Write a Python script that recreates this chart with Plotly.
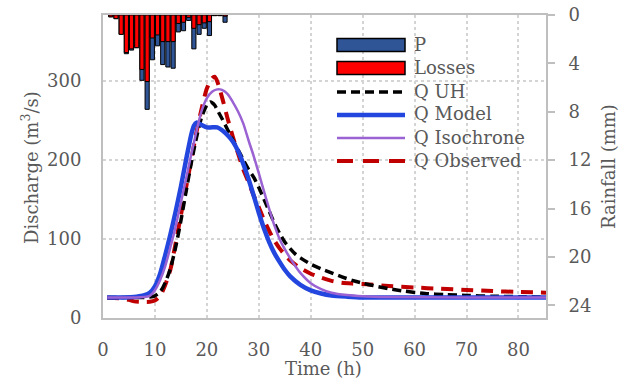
import plotly.graph_objects as go

# ---------------- data ----------------
rain_t = [1.5, 2.5, 3.5, 4.5, 5.5, 6.5, 7.5, 8.5, 9.5, 10.5, 11.5, 12.5,
          13.5, 14.5, 15.5, 16.5, 17.5, 18.5, 19.5, 20.5, 21.5, 22.5, 23.5]
rain_p = [0.15, 0.3, 1.6, 3.2, 2.9, 2.7, 5.4, 7.8, 3.7, 2.55, 4.1, 4.3,
          4.4, 1.4, 1.3, 0.45, 2.8, 1.6, 1.1, 1.7, 0.05, 0.05, 0.6]
rain_loss = [0.15, 0.3, 1.6, 3.1, 2.8, 2.7, 4.5, 5.5, 1.9, 1.65, 2.2, 2.2,
             2.2, 0.7, 0.6, 0.2, 1.1, 0.8, 0.65, 0.55, 0.05, 0.05, 0.1]

t_model = [0.8, 4, 6, 7, 8, 9, 10, 11, 12, 13, 14, 15, 16, 17, 17.5, 18, 19, 20, 21, 22,
           23, 24, 25, 26, 27, 28, 29, 30, 31, 32, 33, 34, 35, 36, 38, 40, 42, 44,
           47, 50, 60, 70, 85.3]
q_model = [26, 26, 26.5, 27.5, 29, 32, 40, 56, 80, 106, 135, 166, 200, 232, 243, 247, 244,
           241, 241, 241, 237, 231, 223, 211, 195, 176, 155, 133, 113, 96, 82, 71, 61,
           53, 42, 35, 31, 28.5, 27, 26, 26, 26, 26]

t_iso = [0.8, 6, 8, 9, 10, 11, 12, 13, 14, 15, 16, 17, 18, 19, 20, 21, 22, 22.5, 23,
         24, 25, 26, 27, 28, 29, 30, 31, 32, 33, 34, 35, 36, 37, 38, 40, 42, 44, 47,
         50, 55, 70, 85.3]
q_iso = [26, 26, 26.5, 28, 35, 48, 66, 90, 116, 146, 176, 207, 236, 262, 278, 286, 289,
         289, 288, 283, 273, 261, 246, 225, 205, 183, 160, 138, 117, 100, 87, 76, 66,
         57, 44, 36.5, 32, 29, 27.5, 26.5, 26, 26]

t_uh = [0.8, 8, 9, 10, 11, 12, 13, 14, 15, 16, 17, 18, 19, 20, 20.7, 21.5, 22, 23, 24,
        25, 26, 27, 28, 29, 30, 31, 32, 33, 34, 35, 36, 37, 38, 40, 42, 44, 46, 48,
        50, 52, 55, 58, 62, 66, 70, 75, 80, 85.3]
q_uh = [26, 26, 26.5, 28, 33, 45, 63, 90, 123, 160, 196, 228, 254, 269, 273, 269, 263,
        251, 238, 225, 213, 200, 188, 178, 165, 150, 135, 120, 107, 96, 88, 81, 76,
        68, 62, 57, 52, 47.5, 44, 41, 37, 34, 31, 29.5, 28.5, 27.5, 27, 26.5]

t_obs = [0.8, 3, 5, 6, 7, 9, 10, 11, 12, 13, 14, 15, 16, 17, 18, 19, 20, 21, 21.5, 22,
         23, 24, 25, 26, 27, 28, 29, 30, 31, 32, 33, 34, 35, 36, 38, 40, 42, 44, 46,
         48, 50, 55, 60, 65, 70, 75, 80, 85.3]
q_obs = [25.5, 25, 23, 21, 20.5, 20.5, 22, 28, 42, 62, 95, 130, 165, 200, 235, 265, 290,
         303, 305, 299, 277, 252, 229, 208, 188, 172, 155, 140, 124, 110, 98, 88, 80,
         73, 63, 56, 51, 47, 44.5, 43.5, 43, 40.5, 38.5, 37, 35.5, 34, 33, 32]

x_ticks = [0, 10, 20, 30, 40, 50, 60, 70, 80]
q_ticks = [0, 100, 200, 300]
r_ticks = [0, 4, 8, 12, 16, 20, 24]

legend_names = ["P", "Losses", "Q UH", "Q Model", "Q Isochrone", "Q Observed"]

# ---------------- style ----------------
FONT = "DejaVu Serif, Liberation Serif, serif"
TXT = "#595959"
AX = "#bfbfbf"
GRID = "#d4d4d4"
C_P = "#2F5597"
C_L = "#FF0000"
C_UH = "#000000"
C_MOD = "#2346DF"
C_ISO = "#9A62D2"
C_OBS = "#C00000"

L, R, T, B = 103, 546, 15, 318
W, H = R - L, B - T


def px(x):
    return (x - L) / W


def py(y):
    return (B - y) / H


fig = go.Figure()

fig.add_trace(go.Bar(x=rain_t, y=rain_p, yaxis="y2", width=0.8, name="P",
                     marker=dict(color=C_P, line=dict(color="black", width=1)),
                     showlegend=False))
fig.add_trace(go.Bar(x=rain_t, y=rain_loss, yaxis="y2", width=0.8, name="Losses",
                     marker=dict(color=C_L, line=dict(color="black", width=1)),
                     showlegend=False))

fig.add_trace(go.Scatter(x=t_obs, y=q_obs, mode="lines", name="Q Observed",
                         line=dict(color=C_OBS, width=4, dash="12px,8px",
                                   shape="spline", smoothing=0.7),
                         showlegend=False))
fig.add_trace(go.Scatter(x=t_uh, y=q_uh, mode="lines", name="Q UH",
                         line=dict(color=C_UH, width=3.5, dash="9px,5px",
                                   shape="spline", smoothing=0.7),
                         showlegend=False))
fig.add_trace(go.Scatter(x=t_model, y=q_model, mode="lines", name="Q Model",
                         line=dict(color=C_MOD, width=4.5, shape="spline", smoothing=0.7),
                         showlegend=False))
fig.add_trace(go.Scatter(x=t_iso, y=q_iso, mode="lines", name="Q Isochrone",
                         line=dict(color=C_ISO, width=2.5, shape="spline", smoothing=0.7),
                         showlegend=False))

# ---------------- custom legend ----------------
shapes = []
annotations = []
leg_x0, leg_x1, leg_tx = 337, 405, 412
leg_y = [45, 68, 92, 115, 138, 161]
# P and Losses boxes
for i, col in enumerate([C_P, C_L]):
    shapes.append(dict(type="rect", xref="paper", yref="paper",
                       x0=px(leg_x0), x1=px(leg_x1),
                       y0=py(leg_y[i] - 6.5), y1=py(leg_y[i] + 6.5),
                       fillcolor=col, line=dict(color="black", width=1.5),
                       layer="above"))
line_styles = [(C_UH, 3.5, "9px,5px"), (C_MOD, 4.5, "solid"),
               (C_ISO, 2.5, "solid"), (C_OBS, 4, "16px,10px")]
for k, (col, w, d) in enumerate(line_styles):
    yy = leg_y[k + 2]
    shapes.append(dict(type="line", xref="paper", yref="paper",
                       x0=px(leg_x0), x1=px(leg_x1), y0=py(yy), y1=py(yy),
                       line=dict(color=col, width=w, dash=d), layer="above"))
for name, yy in zip(legend_names, leg_y):
    annotations.append(dict(text=name, xref="paper", yref="paper",
                            x=px(leg_tx), y=py(yy - 1), xanchor="left", yanchor="middle",
                            showarrow=False, font=dict(family=FONT, size=18, color=TXT)))

# axis titles
annotations.append(dict(text="Time (h)", xref="paper", yref="paper",
                        x=px(323), y=py(368), xanchor="center", yanchor="middle",
                        showarrow=False, font=dict(family=FONT, size=18, color=TXT)))
annotations.append(dict(text="Discharge (m<sup>3</sup>/s)", xref="paper", yref="paper",
                        x=px(30), y=py(168), xanchor="center", yanchor="middle",
                        textangle=-90, showarrow=False,
                        font=dict(family=FONT, size=18, color=TXT)))
annotations.append(dict(text="Rainfall (mm)", xref="paper", yref="paper",
                        x=px(608), y=py(167), xanchor="center", yanchor="middle",
                        textangle=-90, showarrow=False,
                        font=dict(family=FONT, size=18, color=TXT)))

fig.update_layout(
    width=635, height=383,
    margin=dict(l=L, r=635 - R, t=T, b=383 - B, autoexpand=False),
    paper_bgcolor="white", plot_bgcolor="white",
    barmode="overlay",
    font=dict(family=FONT, size=18, color=TXT),
    shapes=shapes, annotations=annotations,
    xaxis=dict(range=[0, 85.3], tickvals=x_ticks, showgrid=True, gridcolor=GRID,
               griddash="dot", gridwidth=1.5, showline=True, linecolor=AX, linewidth=2,
               mirror=True, zeroline=False, ticks="", ticklabelstandoff=14,
               tickfont=dict(family=FONT, size=18, color=TXT)),
    yaxis=dict(range=[0, 383], tickvals=q_ticks, showgrid=True, gridcolor=GRID,
               griddash="dot", gridwidth=1.5, showline=True, linecolor=AX, linewidth=2,
               zeroline=False, ticks="", ticklabelstandoff=16,
               tickfont=dict(family=FONT, size=18, color=TXT)),
    yaxis2=dict(overlaying="y", side="right", range=[25.05, 0], tickvals=r_ticks,
                showgrid=False, showline=True, linecolor=AX, linewidth=2, zeroline=False,
                ticks="outside", ticklen=7, tickcolor=AX, tickwidth=1.5,
                ticklabelstandoff=10,
                tickfont=dict(family=FONT, size=18, color=TXT)),
)

fig.write_html("out.html")
